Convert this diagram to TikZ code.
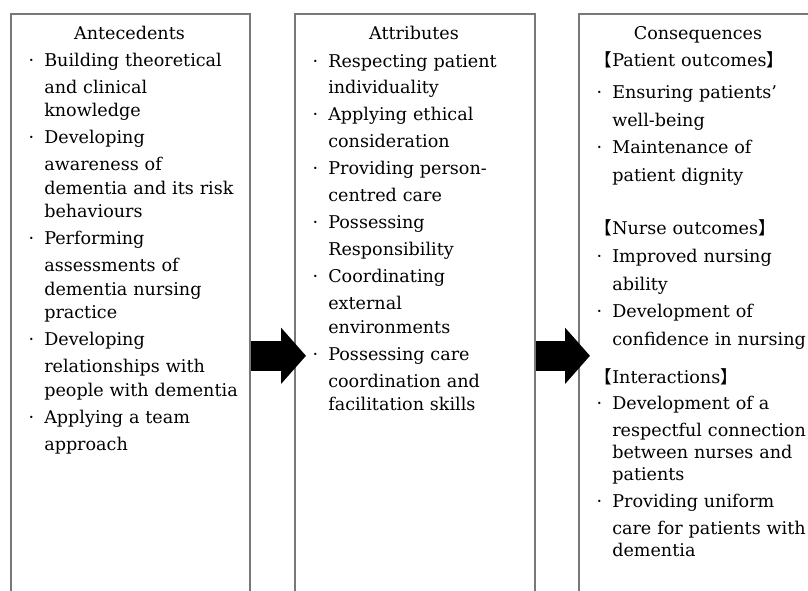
\documentclass[tikz,border=0pt]{standalone}
\usepackage{fontspec}
\setmainfont{DejaVu Serif}
\newfontfamily\cjk{Noto Sans CJK JP}
\usetikzlibrary{arrows.meta,positioning}
\definecolor{frame}{RGB}{120,120,120}
\newcommand{\bul}{\leavevmode\llap{·\hspace{2.5mm}}}
\newcommand{\lbr}{\leavevmode\llap{\cjk 【}}
\newcommand{\rbr}{{\cjk 】}}
\newcommand{\gap}{0.875mm}

\begin{document}
\begin{tikzpicture}[x=0.25mm, y=-0.25mm, font=\fontsize{12.5}{16.7}\selectfont,
  box/.style={draw=frame, line width=0.4mm, minimum width=60mm, minimum height=171mm, anchor=north west, inner sep=0pt},
  title/.style={anchor=base, inner sep=0pt},
  list/.style={anchor=base west, align=left, text width=51mm, inner sep=0pt},
  flow/.style={line width=7.5mm, -{Triangle[length=6.25mm, width=13.75mm]}, shorten >=-3mm}]
\useasboundingbox (0,0) rectangle (808,591);
\clip (0,0) rectangle (808,591);
\node[box, minimum width=59.75mm] (ante) at (10,13) {};
\node[box] (attr) at (294,13) {};
\node[box] (cons) at (578,13) {};
\node[title] (anteT) at (129.5,39.5) {Antecedents};
\node[title] (attrT) at (414,39.5) {Attributes};
\node[title] (consT) at (698,39.5) {Consequences};
\node[list] (anteL) at (44,66.5) {\bul Building theoretical\\[\gap] and clinical\\ knowledge\\[\gap]
  \bul Developing\\[\gap] awareness of\\ dementia and its risk\\ behaviours\\[\gap]
  \bul Performing\\[\gap] assessments of\\ dementia nursing\\ practice\\[\gap]
  \bul Developing\\[\gap] relationships with\\ people with dementia\\[\gap]
  \bul Applying a team\\[\gap] approach};
\node[list] (attrL) at (328,67) {\bul Respecting patient\\[\gap] individuality\\[\gap]
  \bul Applying ethical\\[\gap] consideration\\[\gap]
  \bul Providing person-\\[\gap] centred care\\[\gap]
  \bul Possessing\\[\gap] Responsibility\\[\gap]
  \bul Coordinating\\[\gap] external\\ environments\\[\gap]
  \bul Possessing care\\[\gap] coordination and\\ facilitation skills};
\node[list] (pat) at (612,66.5) {\lbr Patient outcomes\rbr\\[2.25mm]
  \bul Ensuring patients'\\[1mm] well-being\\[1mm]
  \bul Maintenance of\\[1mm] patient dignity};
\node[list] (nurse) at (612,234) {\lbr Nurse outcomes\rbr\\[1.375mm]
  \bul Improved nursing\\[1mm] ability\\[1mm]
  \bul Development of\\[1mm] confidence in nursing};
\node[list, font=\fontsize{12.5}{15.6}\selectfont] (inter) at (612,383) {\lbr Interactions\rbr\\[1.25mm]
  \bul Development of a\\[1.25mm] respectful connection\\ between nurses and\\ patients\\[1.25mm]
  \bul Providing uniform\\[1.25mm] care for patients with\\ dementia};
\draw[flow] (ante.east) -- (attr.west);
\draw[flow] (attr.east) -- (cons.west);
\end{tikzpicture}
\end{document}
